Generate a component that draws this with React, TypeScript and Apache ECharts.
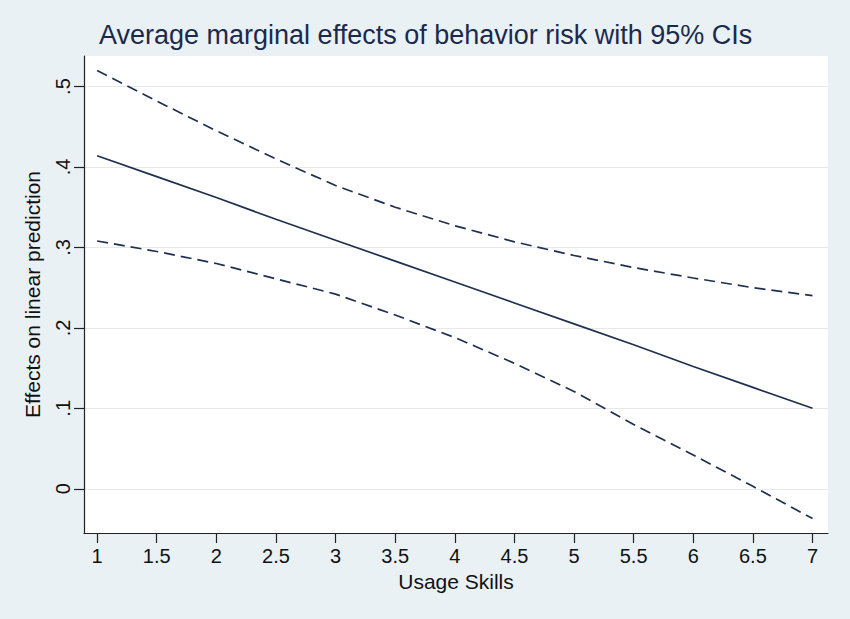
import React, { useEffect, useRef } from "react";
import * as echarts from "echarts";

const titleText = "Average marginal effects of behavior risk with 95% CIs";
const xName = "Usage Skills";
const yName = "Effects on linear prediction";

const xValues = [1, 1.5, 2, 2.5, 3, 3.5, 4, 4.5, 5, 5.5, 6, 6.5, 7];
const margin = [0.414, 0.388, 0.362, 0.335, 0.309, 0.283, 0.257, 0.231, 0.205, 0.179, 0.152, 0.126, 0.1];
const upperCI = [0.52, 0.482, 0.445, 0.41, 0.377, 0.35, 0.327, 0.307, 0.29, 0.275, 0.262, 0.25, 0.24];
const lowerCI = [0.308, 0.295, 0.28, 0.261, 0.242, 0.216, 0.188, 0.156, 0.121, 0.08, 0.042, 0.003, -0.037];

const xTicks = [1, 1.5, 2, 2.5, 3, 3.5, 4, 4.5, 5, 5.5, 6, 6.5, 7];
const yTicks = [0, 0.1, 0.2, 0.3, 0.4, 0.5];

const LINE = "#1e3050";
const FONT = "Liberation Sans, Arial, sans-serif";

export default function App() {
  const ref = useRef<HTMLDivElement>(null);
  useEffect(() => {
    if (!ref.current) return;
    const chart = echarts.init(ref.current, undefined, { renderer: "svg" });
    const zip = (ys: number[]) => xValues.map((x, i) => [x, ys[i]]);
    chart.setOption({
      animation: false,
      backgroundColor: "#e9f1f4",
      textStyle: { fontFamily: FONT },
      title: {
        text: titleText,
        left: 94,
        top: 16,
        textStyle: { fontSize: 27, fontWeight: "normal", color: "#1b2a4c", fontFamily: FONT },
      },
      grid: {
        left: 84,
        right: 22,
        top: 56,
        bottom: 86,
        show: true,
        backgroundColor: "#ffffff",
        borderWidth: 0,
      },
      xAxis: {
        type: "value",
        min: 0.89,
        max: 7.13,
        axisLine: { show: true, onZero: false, lineStyle: { color: "#222", width: 1.2 } },
        axisTick: { show: true, length: 10, customValues: xTicks, lineStyle: { color: "#222", width: 1.2 } },
        axisLabel: {
          customValues: xTicks,
          formatter: (v: number) => String(v),
          fontSize: 20,
          color: "#111",
          margin: 13,
        },
        splitLine: { show: false },
        name: xName,
        nameLocation: "middle",
        nameGap: 33,
        nameTextStyle: { fontSize: 21, color: "#111" },
      },
      yAxis: {
        type: "value",
        min: -0.055,
        max: 0.538,
        axisLine: { show: true, onZero: false, lineStyle: { color: "#222", width: 1.2 } },
        axisTick: { show: true, length: 10, customValues: yTicks, lineStyle: { color: "#222", width: 1.2 } },
        axisLabel: {
          customValues: yTicks,
          rotate: 90,
          formatter: (v: number) => (v === 0 ? "0" : String(v).replace(/^0/, "")),
          fontSize: 20,
          color: "#111",
          margin: 11,
        },
        splitLine: { show: true, lineStyle: { color: "#e8e8e8", width: 1 } },
        name: yName,
        nameLocation: "middle",
        nameRotate: 90,
        nameGap: 41,
        nameTextStyle: { fontSize: 21, color: "#111" },
      },
      series: [
        {
          type: "line",
          data: zip(upperCI),
          symbol: "none",
          lineStyle: { color: LINE, width: 1.7, type: [11, 6] },
        },
        {
          type: "line",
          data: zip(margin),
          symbol: "none",
          lineStyle: { color: LINE, width: 1.7 },
        },
        {
          type: "line",
          data: zip(lowerCI),
          symbol: "none",
          lineStyle: { color: LINE, width: 1.7, type: [11, 6] },
        },
      ],
    });
    return () => chart.dispose();
  }, []);
  return (
    <div
      ref={ref}
      style={{ position: "fixed", left: 0, top: 0, width: 850, height: 619 }}
    />
  );
}
